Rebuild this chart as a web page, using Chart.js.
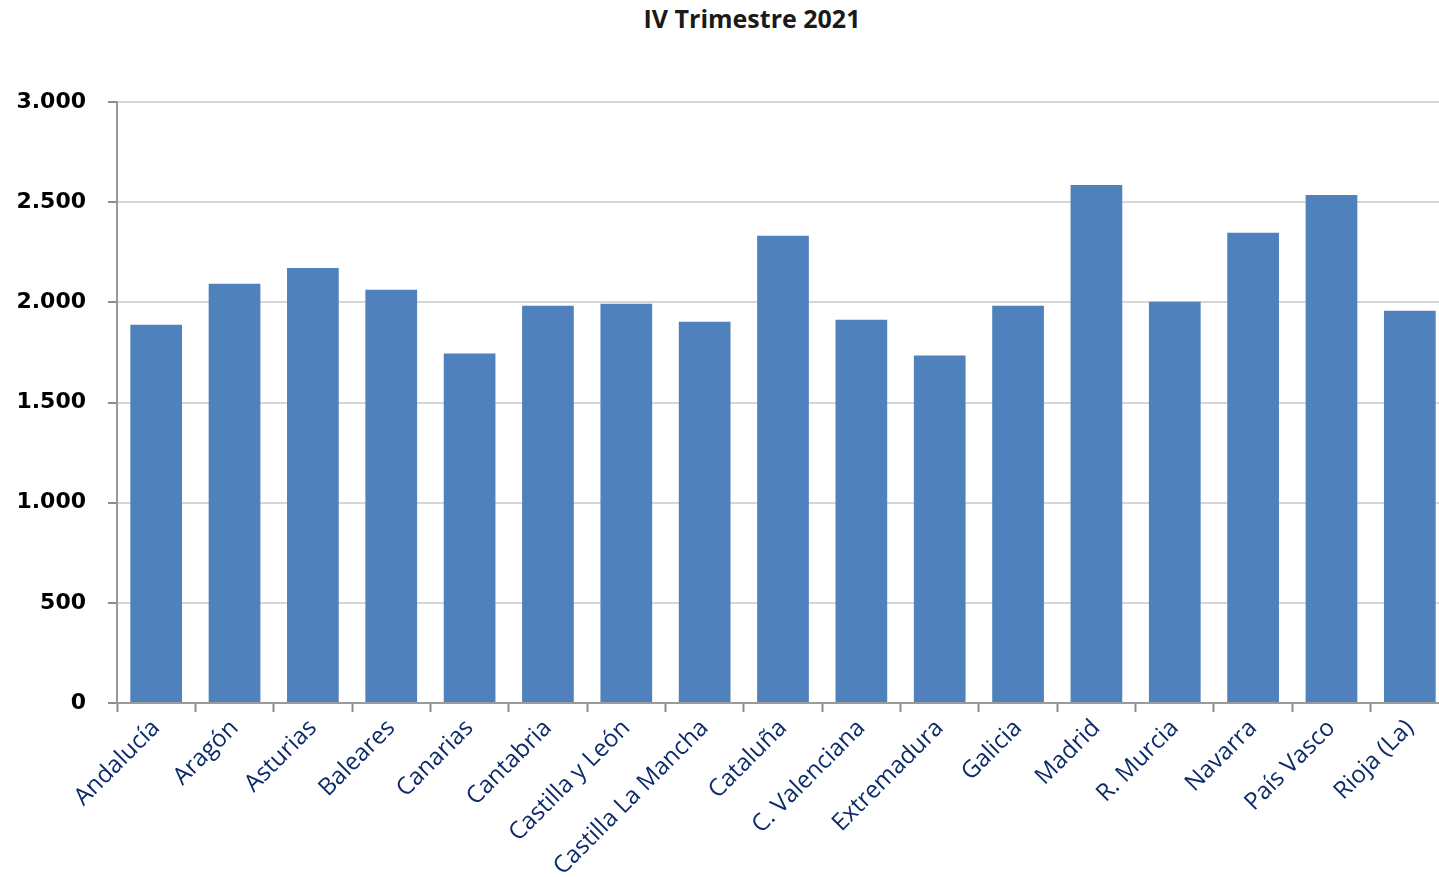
<!DOCTYPE html>
<html>
<head>
<meta charset="utf-8">
<script src="https://cdn.jsdelivr.net/npm/chart.js@4/dist/chart.umd.min.js"></script>
<style>
    html, body { margin: 0; padding: 0; background: #fff; overflow: hidden; }
    #title {
        position: absolute; top: 1px; left: 752px; transform: translateX(-50%);
        font-family: 'Open Sans', sans-serif; font-weight: 700; font-size: 25px; color: #1a1a1a;
        white-space: nowrap;
    }
    #wrap { position: absolute; left: 0; top: 0; width: 1449px; height: 877px; }
</style>
</head>
<body>
<div id="title">IV Trimestre 2021</div>
<div id="wrap"><canvas id="chart"></canvas></div>
<script>
const regions = ['Andalucía', 'Aragón', 'Asturias', 'Baleares', 'Canarias', 'Cantabria', 'Castilla y León',
    'Castilla La Mancha', 'Cataluña', 'C. Valenciana', 'Extremadura', 'Galicia', 'Madrid', 'R. Murcia',
    'Navarra', 'País Vasco', 'Rioja (La)'];
const values = [1888, 2093, 2172, 2063, 1744, 1983, 1993, 1903, 2332, 1913, 1734, 1983, 2586, 2003, 2347, 2536, 1958];
const yTicks = [0, 500, 1000, 1500, 2000, 2500, 3000];

function fmt(v) {
    return String(v).replace(/\B(?=(\d{3})+(?!\d))/g, '.');
}

document.addEventListener('DOMContentLoaded', function() {
    const ctx = document.getElementById('chart').getContext('2d');
    new Chart(ctx, {
        type: 'bar',
        data: {
            labels: regions,
            datasets: [{
                data: values,
                backgroundColor: '#4f81bd',
                borderWidth: 0,
                categoryPercentage: 1,
                barPercentage: 0.66
            }]
        },
        options: {
            responsive: true,
            maintainAspectRatio: false,
            animation: false,
            devicePixelRatio: 1,
            layout: { padding: { top: 102, left: 0, right: 0, bottom: 0 } },
            plugins: { legend: { display: false }, title: { display: false }, tooltip: { enabled: false } },
            scales: {
                y: {
                    min: yTicks[0],
                    max: yTicks[yTicks.length - 1],
                    afterBuildTicks: function(scale) { scale.ticks = yTicks.map(v => ({ value: v })); },
                    afterFit: function(scale) { scale.width = 117; },
                    border: { color: '#9a9a9a', width: 2 },
                    grid: { color: '#d6d6d6', lineWidth: 2, tickColor: '#8c8c8c', tickLength: 9, tickWidth: 2 },
                    ticks: {
                        padding: 22,
                        color: '#000',
                        font: { family: 'DejaVu Sans', weight: 'bold', size: 22 },
                        callback: function(v) { return fmt(v); }
                    }
                },
                x: {
                    afterFit: function(scale) { scale.height = 174; },
                    border: { color: '#9a9a9a', width: 2 },
                    grid: { display: true, drawOnChartArea: false, offset: true, tickColor: '#8c8c8c', tickLength: 9, tickWidth: 2 },
                    ticks: {
                        minRotation: 45,
                        maxRotation: 45,
                        autoSkip: false,
                        padding: 2,
                        color: '#0d2b6b',
                        font: { family: 'Open Sans', size: 24 }
                    }
                }
            }
        }
    });
});
</script>
</body>
</html>
